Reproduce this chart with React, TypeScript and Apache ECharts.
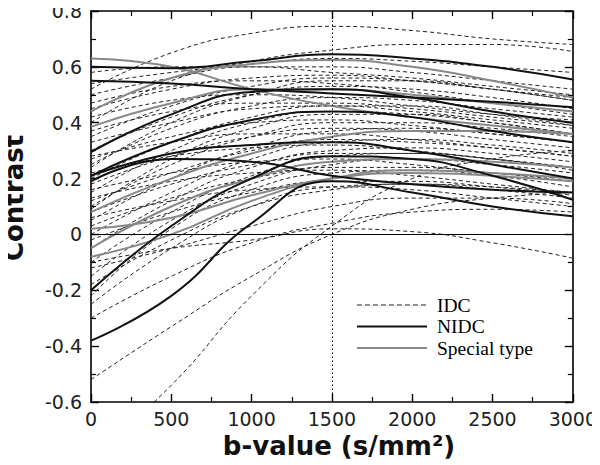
import React, { useEffect, useRef } from "react";
import * as echarts from "echarts";

const bValues = [0, 500, 1000, 1500, 2000, 2500, 3000];

const idcCurves: number[][] = [
  [0.52, 0.65, 0.72, 0.745, 0.73, 0.70, 0.68],
  [0.40, 0.55, 0.62, 0.66, 0.68, 0.68, 0.655],
  [0.54, 0.58, 0.61, 0.63, 0.62, 0.60, 0.58],
  [0.50, 0.56, 0.60, 0.60, 0.58, 0.55, 0.52],
  [0.45, 0.52, 0.56, 0.57, 0.55, 0.52, 0.49],
  [0.35, 0.46, 0.53, 0.56, 0.55, 0.52, 0.48],
  [0.30, 0.42, 0.50, 0.53, 0.52, 0.49, 0.45],
  [0.42, 0.48, 0.50, 0.49, 0.46, 0.43, 0.41],
  [0.25, 0.38, 0.46, 0.49, 0.48, 0.45, 0.42],
  [0.33, 0.40, 0.45, 0.46, 0.44, 0.41, 0.38],
  [0.20, 0.33, 0.42, 0.46, 0.46, 0.43, 0.39],
  [0.15, 0.30, 0.40, 0.44, 0.43, 0.40, 0.36],
  [0.27, 0.35, 0.40, 0.41, 0.39, 0.36, 0.33],
  [0.10, 0.25, 0.35, 0.40, 0.40, 0.38, 0.35],
  [0.18, 0.28, 0.35, 0.38, 0.37, 0.34, 0.31],
  [0.05, 0.20, 0.31, 0.37, 0.38, 0.36, 0.33],
  [0.12, 0.22, 0.30, 0.34, 0.33, 0.31, 0.28],
  [0.00, 0.15, 0.27, 0.33, 0.34, 0.32, 0.29],
  [0.22, 0.28, 0.31, 0.32, 0.30, 0.27, 0.24],
  [-0.05, 0.12, 0.24, 0.30, 0.31, 0.29, 0.26],
  [0.08, 0.18, 0.25, 0.29, 0.29, 0.27, 0.24],
  [-0.10, 0.08, 0.21, 0.28, 0.29, 0.27, 0.23],
  [0.16, 0.22, 0.26, 0.27, 0.25, 0.22, 0.20],
  [-0.15, 0.05, 0.18, 0.25, 0.27, 0.25, 0.22],
  [0.03, 0.13, 0.20, 0.24, 0.24, 0.22, 0.19],
  [-0.22, 0.02, 0.16, 0.22, 0.23, 0.21, 0.17],
  [-0.02, 0.08, 0.15, 0.19, 0.19, 0.17, 0.14],
  [-0.25, -0.05, 0.10, 0.17, 0.18, 0.16, 0.13],
  [0.06, 0.12, 0.16, 0.17, 0.16, 0.13, 0.10],
  [-0.12, -0.05, 0.03, 0.10, 0.13, 0.13, 0.11],
  [-0.10, -0.05, -0.02, 0.02, 0.01, -0.03, -0.085],
  [-0.52, -0.33, -0.15, 0.0, 0.09, 0.13, 0.15],
  [-0.80, -0.54, -0.22, 0.03, 0.20, 0.27, 0.30],
  [-0.30, -0.15, -0.03, 0.04, 0.08, 0.09, 0.08],
  [0.58, 0.60, 0.60, 0.58, 0.56, 0.53, 0.50],
  [0.47, 0.53, 0.55, 0.54, 0.51, 0.47, 0.43],
  [0.37, 0.44, 0.47, 0.47, 0.45, 0.42, 0.39],
  [0.28, 0.33, 0.36, 0.36, 0.34, 0.31, 0.28],
  [0.13, 0.19, 0.22, 0.23, 0.21, 0.18, 0.15],
  [-0.18, -0.02, 0.10, 0.16, 0.18, 0.17, 0.15],
  [0.09, 0.27, 0.38, 0.43, 0.43, 0.40, 0.36],
  [0.24, 0.40, 0.50, 0.55, 0.55, 0.52, 0.48],
];

const nidcCurves: number[][] = [
  [0.60, 0.595, 0.62, 0.645, 0.63, 0.60, 0.555],
  [0.55, 0.54, 0.52, 0.505, 0.49, 0.475, 0.455],
  [0.295, 0.43, 0.51, 0.52, 0.49, 0.44, 0.40],
  [0.21, 0.33, 0.41, 0.44, 0.42, 0.37, 0.33],
  [0.21, 0.29, 0.32, 0.33, 0.30, 0.25, 0.20],
  [0.19, 0.27, 0.26, 0.21, 0.18, 0.16, 0.15],
  [-0.20, 0.03, 0.20, 0.28, 0.27, 0.21, 0.124],
  [-0.38, -0.22, 0.04, 0.19, 0.15, 0.10, 0.065],
];

const specialCurves: number[][] = [
  [0.63, 0.60, 0.52, 0.46, 0.42, 0.39, 0.36],
  [0.44, 0.56, 0.61, 0.625, 0.60, 0.55, 0.49],
  [0.385, 0.47, 0.52, 0.52, 0.50, 0.47, 0.44],
  [0.08, 0.20, 0.29, 0.35, 0.37, 0.37, 0.36],
  [-0.05, 0.10, 0.20, 0.26, 0.27, 0.26, 0.24],
  [0.02, 0.06, 0.14, 0.20, 0.22, 0.21, 0.19],
  [-0.08, 0.00, 0.12, 0.20, 0.23, 0.22, 0.20],
];

const legendNames = ["IDC", "NIDC", "Special type"];
const xTicks = { min: 0, max: 3000, interval: 500 };
const yTicks = { min: -0.6, max: 0.8, interval: 0.2 };
const refZero = 0;
const refB = 1500;

const sans = "DejaVu Sans";
const serif = "Liberation Serif";

const idcStyle = { color: "#222", width: 1, type: [4, 3] as number[] };
const nidcStyle = { color: "#111", width: 2, type: "solid" };
const specialStyle = { color: "#888", width: 2, type: "solid" };

function makeSeries(curves: number[][], name: string, lineStyle: any, z: number) {
  return curves.map((c) => ({
    name,
    type: "line",
    data: c.map((v, i) => [bValues[i], v]),
    smooth: 0.5,
    symbol: "none",
    showSymbol: false,
    clip: true,
    z,
    lineStyle,
    itemStyle: { color: lineStyle.color },
    emphasis: { disabled: true },
  }));
}

export default function App() {
  const ref = useRef<HTMLDivElement>(null);
  useEffect(() => {
    if (!ref.current) return;
    const chart = echarts.init(ref.current, undefined, { renderer: "svg" });
    const axisCommon = {
      axisLine: { show: true, onZero: false, lineStyle: { color: "#000", width: 1.6 } },
      axisTick: { show: true, inside: true, length: 8, lineStyle: { color: "#000", width: 1.4 } },
      minorTick: { show: true, splitNumber: 2, length: 5, lineStyle: { color: "#000", width: 1.2 } },
      splitLine: { show: false },
    };
    const series: any[] = [
      ...makeSeries(idcCurves, legendNames[0], idcStyle, 2),
      ...makeSeries(specialCurves, legendNames[2], specialStyle, 3),
      ...makeSeries(nidcCurves, legendNames[1], nidcStyle, 4),
      {
        type: "line",
        data: [],
        silent: true,
        markLine: {
          silent: true,
          symbol: "none",
          label: { show: false },
          animation: false,
          data: [
            { yAxis: refZero, lineStyle: { color: "#000", width: 1, type: "solid" } },
            { xAxis: refB, lineStyle: { color: "#000", width: 1, type: [1.5, 2.5] } },
          ],
        },
      },
    ];
    const legendStyles = [idcStyle, nidcStyle, specialStyle];
    const legendGraphics: any[] = [];
    legendNames.forEach((n, i) => {
      const y = 305 + i * 21.5;
      const st = legendStyles[i];
      legendGraphics.push({
        type: "line",
        shape: { x1: 357, y1: y, x2: 427, y2: y },
        style: {
          stroke: st.color,
          lineWidth: st.width === 1 ? 1.2 : 2,
          lineDash: Array.isArray(st.type) ? [5, 3] : null,
        },
        z: 10,
      });
      legendGraphics.push({
        type: "text",
        x: 437,
        y,
        style: {
          text: n,
          font: `19.5px "${serif}"`,
          fill: "#000",
          align: "left",
          verticalAlign: "middle",
        },
        z: 10,
      });
    });
    chart.setOption({
      animation: false,
      backgroundColor: "#fff",
      grid: { left: 91, right: 27, top: 11, bottom: 63, containLabel: false },
      xAxis: [
        {
          type: "value",
          position: "bottom",
          ...xTicks,
          ...axisCommon,
          axisLabel: {
            show: true,
            fontFamily: sans,
            fontSize: 19,
            color: "#222",
            margin: 7,
            formatter: (v: number) => String(v),
          },
        },
        {
          type: "value",
          position: "top",
          ...xTicks,
          ...axisCommon,
          axisLabel: { show: false },
        },
      ],
      yAxis: [
        {
          type: "value",
          position: "left",
          ...yTicks,
          ...axisCommon,
          axisLabel: {
            show: true,
            fontFamily: sans,
            fontSize: 19,
            color: "#222",
            margin: 9,
            formatter: (v: number) => String(Number(v.toFixed(1))),
          },
        },
        {
          type: "value",
          position: "right",
          ...yTicks,
          ...axisCommon,
          axisLabel: { show: false },
        },
      ],
      graphic: [
        {
          type: "text",
          x: 14,
          y: 198,
          rotation: Math.PI / 2,
          style: {
            text: "Contrast",
            font: `bold 26px "${sans}"`,
            fill: "#111",
            align: "center",
            verticalAlign: "middle",
          },
        },
        {
          type: "text",
          x: 339,
          y: 446,
          style: {
            text: "b-value (s/mm²)",
            font: `bold 26px "${sans}"`,
            fill: "#111",
            align: "center",
            verticalAlign: "middle",
          },
        },
        ...legendGraphics,
      ],
      series,
    });
    return () => chart.dispose();
  }, []);
  return <div ref={ref} style={{ width: 600, height: 465, marginLeft: -8, marginTop: -8 }} />;
}
